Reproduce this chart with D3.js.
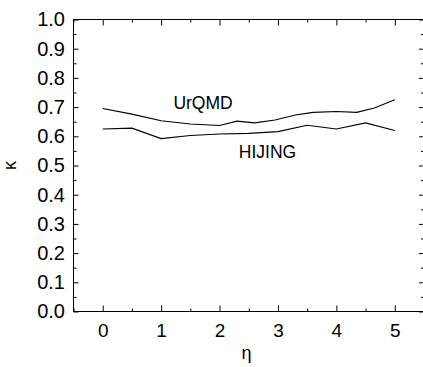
<!DOCTYPE html>
<html>
<head>
<meta charset="utf-8">
<script src="https://cdn.jsdelivr.net/npm/d3@7"></script>
<style>
  body { margin: 0; background: #fff; }
  svg text { font-family: "Liberation Sans", Arial, sans-serif; fill: #000; }
</style>
</head>
<body>
<svg width="423" height="367"></svg>
<script>
// eta positions and kappa values
const urqmdEta = [0, 0.5, 1.0, 1.5, 2.0, 2.3, 2.6, 2.95, 3.3, 3.6, 4.0, 4.35, 4.65, 5.0];
const urqmdKappa = [0.695, 0.676, 0.653, 0.642, 0.637, 0.652, 0.646, 0.656, 0.673, 0.682, 0.685, 0.682, 0.697, 0.725];

const hijingEta = [0, 0.5, 1.0, 1.5, 2.0, 2.5, 3.0, 3.5, 4.0, 4.5, 5.0];
const hijingKappa = [0.625, 0.628, 0.592, 0.603, 0.608, 0.610, 0.616, 0.638, 0.625, 0.646, 0.620];

const xTicks = [0, 1, 2, 3, 4, 5];
const yTicks = [0, 0.1, 0.2, 0.3, 0.4, 0.5, 0.6, 0.7, 0.8, 0.9, 1.0];

const margin = {top: 19.5, right: -1, bottom: 55.5, left: 73.5};
const width = 423 - margin.left - margin.right;
const height = 367 - margin.top - margin.bottom;

const svg = d3.select("svg")
    .append("g")
    .attr("transform", "translate(" + margin.left + "," + margin.top + ")");

const x = d3.scaleLinear().domain([-0.5, 5.5]).range([0, width]);
const y = d3.scaleLinear().domain([0, 1]).range([height, 0]);

const xMinor = d3.range(-0.5, 5.51, 0.5).filter(d => Math.abs(d - Math.round(d)) > 0.01);
const yMinor = d3.range(0.05, 1, 0.1);

// frame
svg.append("rect")
    .attr("width", width).attr("height", height)
    .attr("fill", "none").attr("stroke", "#000").attr("stroke-width", 1);

// bottom axis, ticks pointing inward
const bottomAxis = svg.append("g").attr("transform", "translate(0," + height + ")")
    .call(d3.axisBottom(x).tickValues(xTicks).tickSize(-6).tickPadding(12).tickFormat(d3.format("d")));
bottomAxis.select(".domain").remove();
bottomAxis.selectAll("text").style("font-size", "19px");
svg.append("g").attr("transform", "translate(0," + height + ")")
    .call(d3.axisBottom(x).tickValues(xMinor).tickSize(-3).tickFormat(""))
    .select(".domain").remove();

// top axis ticks
const topAxis = svg.append("g")
    .call(d3.axisTop(x).tickValues(xTicks).tickSize(-6).tickFormat(""));
topAxis.select(".domain").remove();
svg.append("g").call(d3.axisTop(x).tickValues(xMinor).tickSize(-3).tickFormat(""))
    .select(".domain").remove();

// left axis
const leftAxis = svg.append("g")
    .call(d3.axisLeft(y).tickValues(yTicks).tickSize(-5).tickPadding(8.5).tickFormat(d3.format(".1f")));
leftAxis.select(".domain").remove();
leftAxis.selectAll("text").style("font-size", "20px");
svg.append("g").call(d3.axisLeft(y).tickValues(yMinor).tickSize(-3).tickFormat(""))
    .select(".domain").remove();

// right axis ticks
const rightAxis = svg.append("g").attr("transform", "translate(" + width + ",0)")
    .call(d3.axisRight(y).tickValues(yTicks).tickSize(-5).tickFormat(""));
rightAxis.select(".domain").remove();
svg.append("g").attr("transform", "translate(" + width + ",0)")
    .call(d3.axisRight(y).tickValues(yMinor).tickSize(-3).tickFormat(""))
    .select(".domain").remove();

svg.selectAll(".tick line").attr("stroke", "#000");

// curves
const line = d3.line().x(d => x(d[0])).y(d => y(d[1]));

svg.append("path")
    .datum(d3.zip(urqmdEta, urqmdKappa))
    .attr("d", line)
    .attr("fill", "none").attr("stroke", "#000").attr("stroke-width", 1.1);

svg.append("path")
    .datum(d3.zip(hijingEta, hijingKappa))
    .attr("d", line)
    .attr("fill", "none").attr("stroke", "#000").attr("stroke-width", 1.1);

// curve labels
svg.append("text").attr("x", x(1.21)).attr("y", y(0.692))
    .style("font-size", "17.5px").text("UrQMD");
svg.append("text").attr("x", x(2.33)).attr("y", y(0.525))
    .style("font-size", "17.5px").text("HIJING");

// axis titles
svg.append("text")
    .attr("x", x(2.46)).attr("y", height + 47.5)
    .attr("text-anchor", "middle")
    .style("font-size", "18px").text("η");

svg.append("text")
    .attr("transform", "translate(" + (-57.5) + "," + y(0.5) + ") rotate(-90)")
    .attr("text-anchor", "middle")
    .style("font-size", "18px").text("κ");
</script>
</body>
</html>
